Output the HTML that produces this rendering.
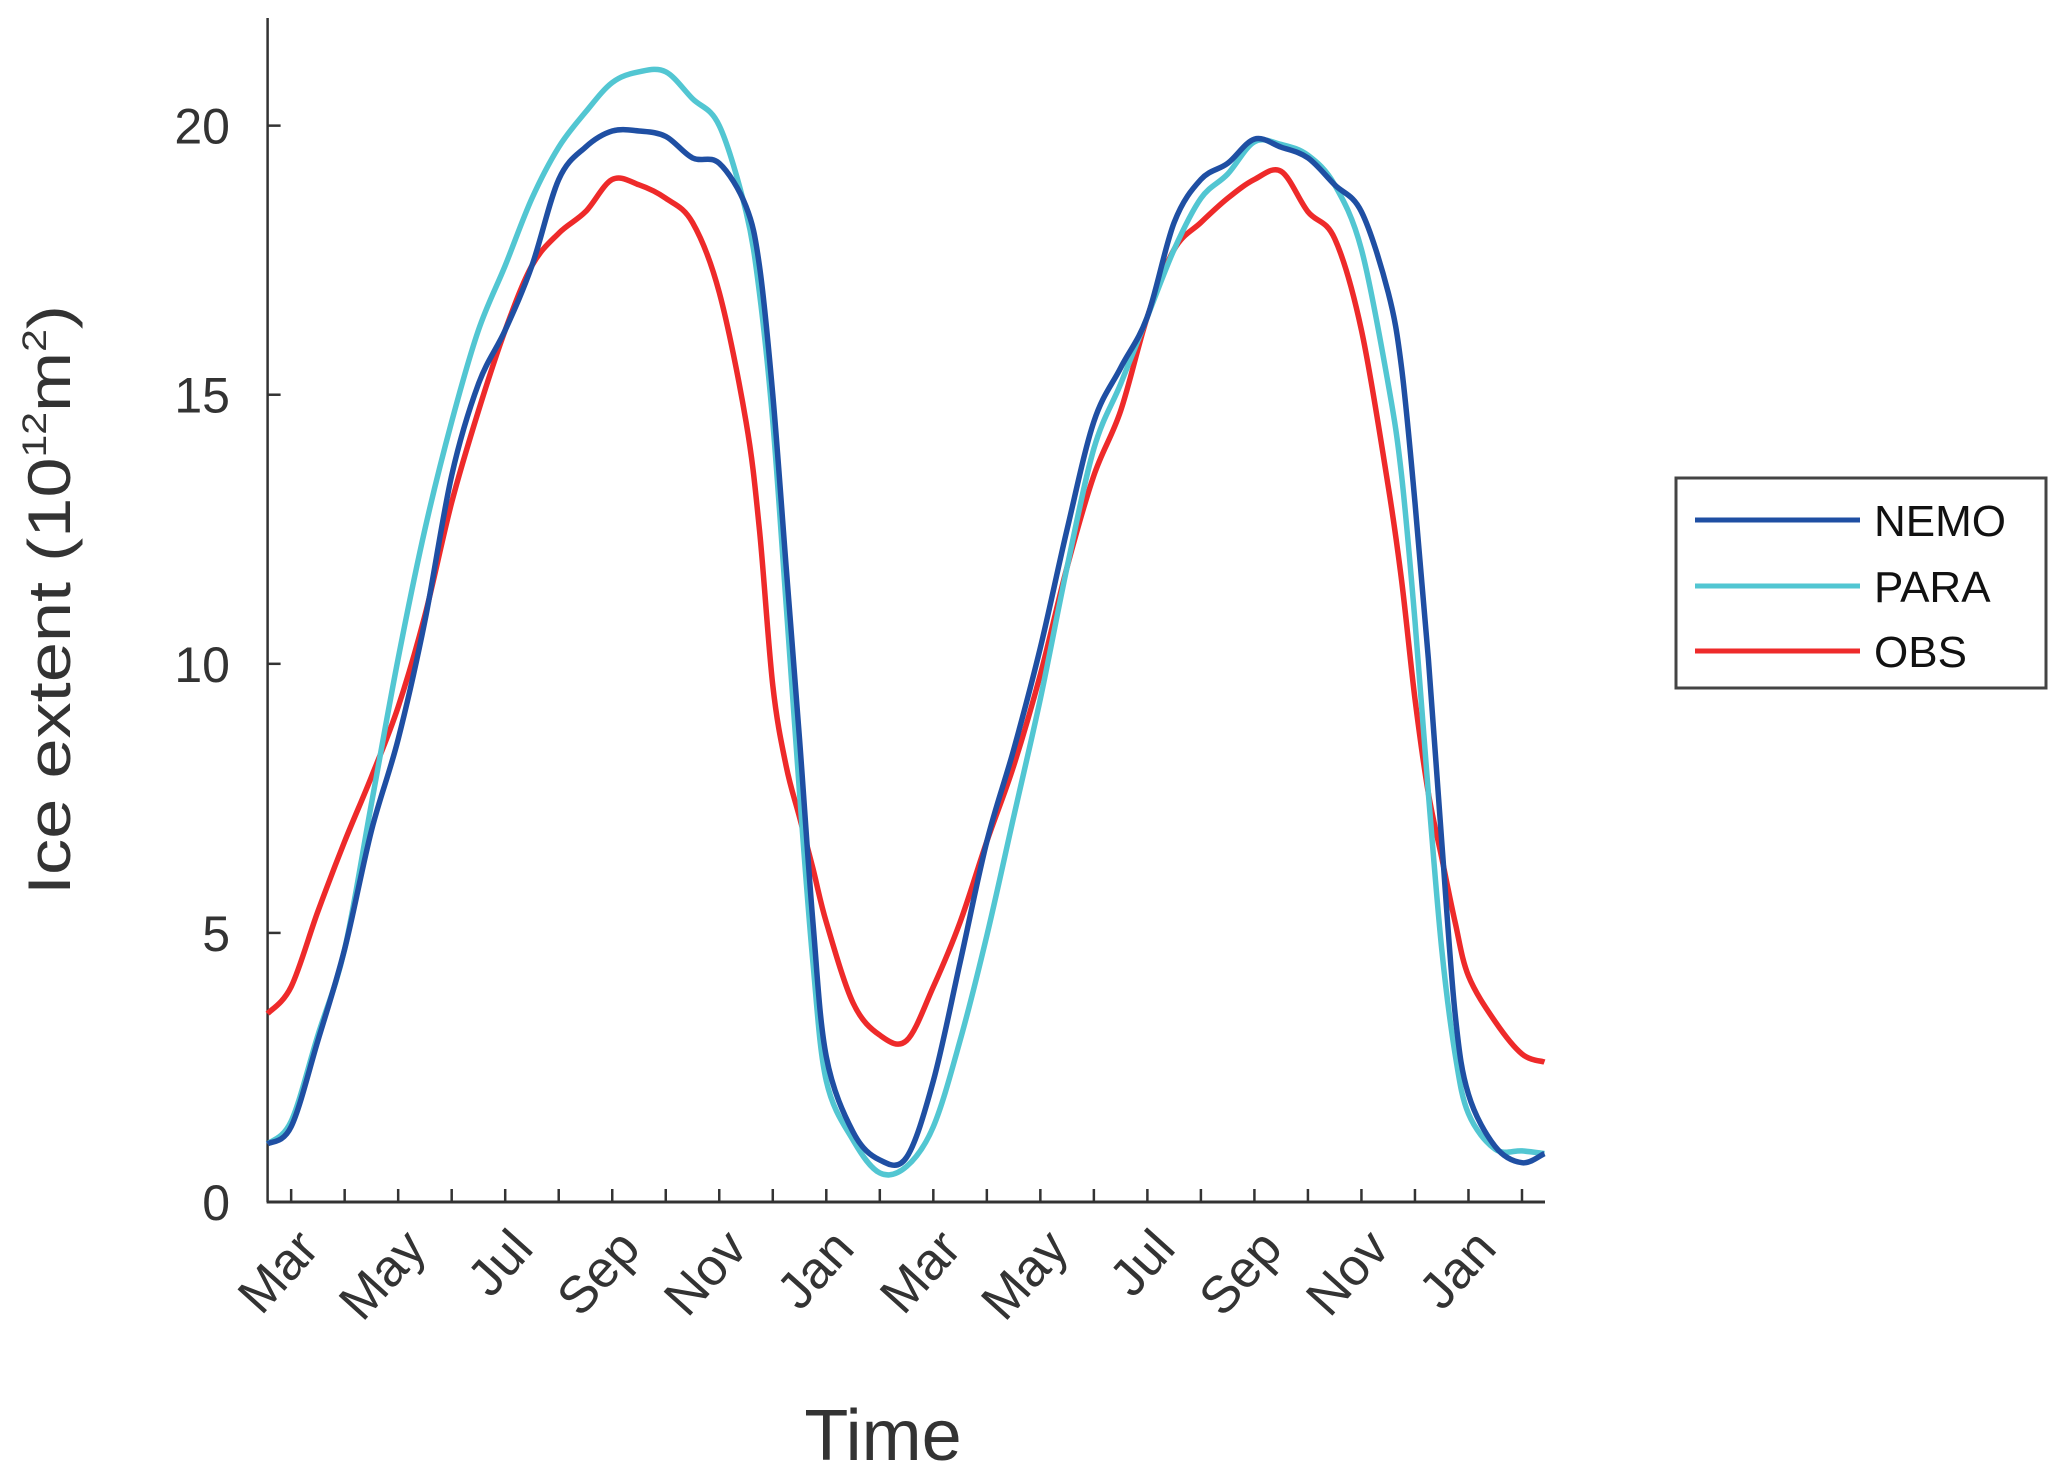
<!DOCTYPE html>
<html><head><meta charset="utf-8"><style>
html,body{margin:0;padding:0;background:#fff;}
svg{display:block;font-family:"Liberation Sans",sans-serif;}
</style></head><body>
<svg id="chart" width="2067" height="1481" viewBox="0 0 2067 1481" xmlns="http://www.w3.org/2000/svg">
<g id="axes"></g>
<g id="series"></g>
<text transform="translate(70,600) rotate(-90)" text-anchor="middle" font-size="60" fill="#333" textLength="590" lengthAdjust="spacingAndGlyphs">Ice extent (10<tspan font-size="34" dy="-24">12</tspan><tspan dy="24">m</tspan><tspan font-size="34" dy="-24">2</tspan><tspan dy="24">)</tspan></text>
<text x="883" y="1460" text-anchor="middle" font-size="72" fill="#333">Time</text>
<g>
<rect x="1676" y="478" width="370" height="210" fill="#fff" stroke="#444" stroke-width="3"/>
<line x1="1695" y1="520" x2="1860" y2="520" stroke="#1f4fa3" stroke-width="5"/>
<text x="1874" y="536" font-size="44" fill="#111">NEMO</text>
<line x1="1695" y1="586" x2="1860" y2="586" stroke="#52c6d2" stroke-width="5"/>
<text x="1874" y="602" font-size="44" fill="#111">PARA</text>
<line x1="1695" y1="651" x2="1860" y2="651" stroke="#ee2a2a" stroke-width="5"/>
<text x="1874" y="667" font-size="44" fill="#111">OBS</text>
</g>
</svg>
<script>
const months = ["Mar","Apr","May","Jun","Jul","Aug","Sep","Oct","Nov","Dec","Jan","Feb","Mar","Apr","May","Jun","Jul","Aug","Sep","Oct","Nov","Dec","Jan","Feb"];
const yTicks = [0,5,10,15,20];
const t = [-0.44,0,0.5,1,1.5,2,2.5,3,3.5,4,4.5,5,5.5,6,6.5,7,7.5,8,8.5,8.75,9,9.25,9.5,9.75,10,10.5,11,11.5,12,12.5,13,13.5,14,14.5,15,15.5,16,16.5,17,17.5,18,18.5,19,19.5,20,20.5,20.75,21,21.25,21.5,21.75,22,22.5,23,23.42];
const nemo = [1.08,1.4,3.0,4.7,6.9,8.6,10.8,13.5,15.2,16.2,17.4,19.0,19.6,19.9,19.9,19.8,19.4,19.3,18.5,17.4,15.0,11.8,8.6,5.2,2.7,1.3,0.78,0.83,2.25,4.45,6.7,8.4,10.3,12.5,14.5,15.5,16.45,18.2,19.0,19.3,19.75,19.6,19.4,18.9,18.4,16.9,15.5,13.0,10.1,6.7,3.5,2.0,1.03,0.73,0.9];
const para = [1.08,1.5,3.1,4.7,7.4,10.1,12.5,14.5,16.2,17.4,18.65,19.6,20.25,20.8,21.0,21.0,20.5,20.0,18.4,16.9,14.5,11.1,7.6,4.45,2.25,1.15,0.54,0.66,1.4,3.0,4.95,7.15,9.35,11.8,14.0,15.2,16.45,17.7,18.65,19.1,19.7,19.65,19.45,18.9,17.7,15.2,13.5,10.8,7.6,4.7,2.75,1.64,0.98,0.95,0.9];
const obs = [3.5,4.0,5.4,6.7,7.9,9.2,10.9,13.0,14.7,16.2,17.4,18.0,18.4,19.0,18.9,18.65,18.2,16.9,14.5,12.5,9.6,8.1,7.15,6.2,5.2,3.7,3.1,3.0,4.0,5.2,6.7,8.1,9.8,11.8,13.5,14.7,16.45,17.7,18.2,18.65,19.0,19.15,18.4,17.9,16.2,13.3,11.55,9.35,7.6,6.4,5.2,4.2,3.35,2.75,2.6];

const NS="http://www.w3.org/2000/svg";
const L=267.6,R=1545,B=1202,T=18;
const xMin=-0.44,xMax=23.43,yMin=0,yMax=22;
function xs(v){return L+(v-xMin)/(xMax-xMin)*(R-L);}
function ys(v){return B-(v-yMin)/(yMax-yMin)*(B-T);}
function mk(tag,attrs,parent){const e=document.createElementNS(NS,tag);for(const k in attrs)e.setAttribute(k,attrs[k]);parent.appendChild(e);return e;}
const axes=document.getElementById('axes');
let e;
e=mk('line',{x1:L,y1:T,x2:L,y2:B,stroke:'#333','stroke-width':2.5},axes);


e=mk('line',{x1:L-1,y1:B,x2:R,y2:B,stroke:'#333','stroke-width':3},axes);


yTicks.forEach(v=>{
  const l=mk('line',{x1:L,y1:ys(v),x2:L+13,y2:ys(v),stroke:'#333','stroke-width':2.5},axes);
  
  
  const tx=mk('text',{x:230,y:ys(v)+18,'text-anchor':'end','font-size':50,fill:'#333'},axes);
  tx.textContent=String(v);
  
  
});
months.forEach((m,i)=>{
  const x=xs(i);
  const l=mk('line',{x1:x,y1:B,x2:x,y2:B-13,stroke:'#333','stroke-width':2.5},axes);
  
  
  if(i%2===0){
    const tx=mk('text',{transform:`translate(${x+30},${1250}) rotate(-48)`,'text-anchor':'end','font-size':52,fill:'#333'},axes);
    tx.textContent=m;
    
    
  }
});
function pathFor(vals){
  const p=t.map((tv,i)=>[xs(tv),ys(vals[i])]);
  let d=`M${p[0][0]},${p[0][1]}`;
  for(let i=0;i<p.length-1;i++){
    const p0=p[i-1]||p[i],p1=p[i],p2=p[i+1],p3=p[i+2]||p2;
    const c1=[p1[0]+(p2[0]-p0[0])/6,p1[1]+(p2[1]-p0[1])/6];
    const c2=[p2[0]-(p3[0]-p1[0])/6,p2[1]-(p3[1]-p1[1])/6];
    d+=`C${c1[0]},${c1[1]} ${c2[0]},${c2[1]} ${p2[0]},${p2[1]}`;
  }
  return d;
}
const sg=document.getElementById('series');
let s;
s=mk('path',{d:pathFor(obs),fill:'none',stroke:'#ee2a2a','stroke-width':5.5,'stroke-linejoin':'round'},sg);


s=mk('path',{d:pathFor(para),fill:'none',stroke:'#52c6d2','stroke-width':5.5,'stroke-linejoin':'round'},sg);


s=mk('path',{d:pathFor(nemo),fill:'none',stroke:'#1f4fa3','stroke-width':5.5,'stroke-linejoin':'round'},sg);


</script>
</body></html>
